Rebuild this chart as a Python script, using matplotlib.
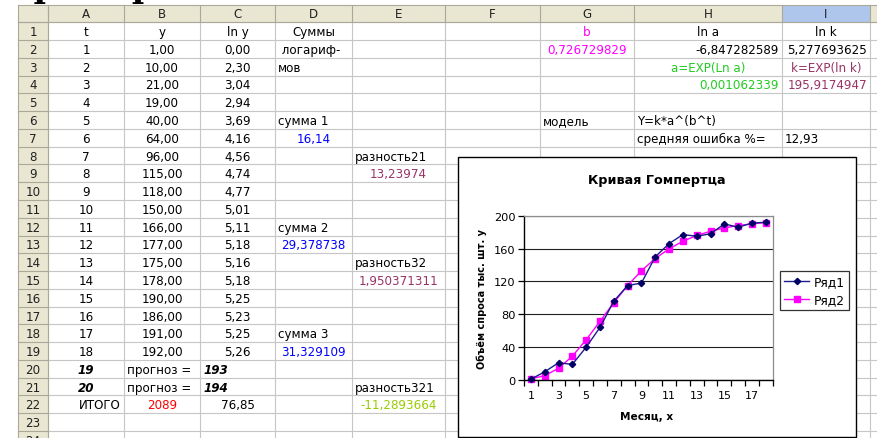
import matplotlib
matplotlib.use("Agg")
import matplotlib.pyplot as plt
from matplotlib.patches import Rectangle

W, H = 877, 439

# ---------------- data ----------------
t = list(range(1, 19))
y = [1, 10, 21, 19, 40, 64, 96, 115, 118, 150, 166, 177, 175, 178, 190, 186, 191, 192]
ln_y = [0.00, 2.30, 3.04, 2.94, 3.69, 4.16, 4.56, 4.74, 4.77, 5.01, 5.11, 5.18,
        5.16, 5.18, 5.25, 5.23, 5.25, 5.26]
model = [1.4, 5.3, 14.2, 29.0, 48.9, 71.5, 94.1, 115.0, 133.0, 147.9, 159.7, 168.9,
         175.9, 181.1, 185.1, 188.0, 190.1, 191.7]
series_names = ["Ряд1", "Ряд2"]
col_letters = ["A", "B", "C", "D", "E", "F", "G", "H", "I"]
y_ticks = [0, 40, 80, 120, 160, 200]
x_tick_labels = [1, 3, 5, 7, 9, 11, 13, 15, 17]
chart_title = "Кривая Гомпертца"
x_label = "Месяц, х"
y_label = "Объём спроса тыс. шт. у"

# ---------------- layout ----------------
col_x = [48, 124, 200, 275, 352, 445, 540, 634, 782, 870]
ROW0, RH = 23.3, 17.77
def row_top(k):
    return ROW0 + (k - 1) * RH
def row_mid(k):
    return row_top(k) + RH / 2 + 0.5

def fmt(v):
    return f"{v:.2f}".replace(".", ",")

FONT = "DejaVu Sans"
FS = 8.6

fig = plt.figure(figsize=(W / 100, H / 100), dpi=100)
ax0 = fig.add_axes([0, 0, 1, 1])
ax0.set_xlim(0, W)
ax0.set_ylim(H, 0)
ax0.axis("off")

# partially visible heading above the sheet
ax0.text(2, -3.5, "Пример", fontfamily="DejaVu Serif", fontweight="bold",
         fontsize=24, va="baseline", ha="left", color="black")

hdr_bg = "#E9E6D2"
grid_c = "#C6C6C6"
sep_c = "#ACA899"
# header bands
ax0.add_patch(Rectangle((18, 5.5), W - 18, ROW0 - 5.5, facecolor=hdr_bg, edgecolor="none", zorder=1))
ax0.add_patch(Rectangle((18, ROW0), 48 - 18, H - ROW0, facecolor=hdr_bg, edgecolor="none", zorder=1))
ax0.add_patch(Rectangle((col_x[8], 5.5), col_x[9] - col_x[8], ROW0 - 5.5,
                        facecolor="#AEC6EC", edgecolor="none", zorder=1.1))
ax0.plot([18, W], [5.5, 5.5], color=sep_c, lw=0.8, zorder=2)
ax0.plot([18, 18], [5.5, H], color=sep_c, lw=0.8, zorder=2)

# grid lines
for x in col_x:
    ax0.plot([x, x], [ROW0, H], color=grid_c, lw=0.8, zorder=2)
    ax0.plot([x, x], [5.5, ROW0], color=sep_c, lw=0.8, zorder=2)
for k in range(1, 26):
    yy = row_top(k)
    ax0.plot([48, W], [yy, yy], color=grid_c, lw=0.8, zorder=2)
    ax0.plot([18, 48], [yy, yy], color=sep_c, lw=0.8, zorder=2)
ax0.plot([18, W], [ROW0, ROW0], color=sep_c, lw=0.8, zorder=2)
ax0.plot([48, 48], [5.5, H], color=sep_c, lw=0.8, zorder=2)

# column letters and row numbers
for i, c in enumerate(col_letters):
    ax0.text((col_x[i] + col_x[i + 1]) / 2, (5.5 + ROW0) / 2 + 0.5, c, ha="center", va="center",
             fontsize=FS, color="#222222", fontfamily=FONT, zorder=3)
for k in range(1, 25):
    ax0.text(33, row_mid(k), str(k), ha="center", va="center", fontsize=FS,
             color="#222222", fontfamily=FONT, zorder=3)

def cell(row, col, text, align="center", color="black", weight="normal", style="normal"):
    ci = col_letters.index(col)
    x0, x1 = col_x[ci], col_x[ci + 1]
    if align == "center":
        x = (x0 + x1) / 2
    elif align == "left":
        x = x0 + 3
    else:
        x = x1 - 3
    ax0.text(x, row_mid(row), text, ha=align, va="center", fontsize=FS, color=color,
             fontweight=weight, fontstyle=style, fontfamily=FONT, zorder=3)

# headers of table
cell(1, "A", "t")
cell(1, "B", "y")
cell(1, "C", "ln y")
cell(1, "D", "Суммы")
cell(2, "D", " логариф-", "left")
cell(3, "D", "мов", "left")
for i in range(len(t)):
    r = i + 2
    cell(r, "A", str(t[i]))
    cell(r, "B", fmt(y[i]))
    cell(r, "C", fmt(ln_y[i]))

MAG, GRN, PUR, BLU = "#FF00FF", "#22CC22", "#993366", "#0000FF"
cell(1, "G", "b", color=MAG)
cell(2, "G", "0,726729829", color=MAG)
cell(1, "H", "ln a")
cell(1, "I", "ln k")
cell(2, "H", "-6,847282589", "right")
cell(2, "I", "5,277693625", "right")
cell(3, "H", "a=EXP(Ln a)", color=GRN)
cell(3, "I", "k=EXP(ln k)", color=PUR)
cell(4, "H", "0,001062339", "right", color=GRN)
cell(4, "I", "195,9174947", "right", color=PUR)
cell(6, "G", "модель", "left")
cell(6, "H", "Y=k*a^(b^t)", "left")
cell(7, "H", "средняя ошибка %=", "left")
cell(7, "I", "12,93", "left")

cell(6, "D", "сумма 1", "left")
cell(7, "D", "16,14", color=BLU)
cell(12, "D", "сумма 2", "left")
cell(13, "D", "29,378738", color=BLU)
cell(18, "D", "сумма 3", "left")
cell(19, "D", "31,329109", color=BLU)

cell(8, "E", "разность21", "left")
cell(9, "E", "13,23974", color=PUR)
cell(14, "E", "разность32", "left")
cell(15, "E", "1,950371311", color=PUR)
cell(21, "E", "разность321", "left")
cell(22, "E", "-11,2893664", color="#99CC00")

cell(20, "A", "19", weight="bold", style="italic")
cell(21, "A", "20", weight="bold", style="italic")
cell(20, "B", "прогноз =", "left")
cell(21, "B", "прогноз =", "left")
cell(20, "C", "193", "left", weight="bold", style="italic")
cell(21, "C", "194", "left", weight="bold", style="italic")
cell(22, "A", "ИТОГО", "right")
cell(22, "B", "2089", color="#FF0000")
cell(22, "C", "76,85")

# ---------------- chart ----------------
ax0.add_patch(Rectangle((458, 158), 856 - 458, 437.6 - 158, facecolor="white",
                        edgecolor="black", lw=1.0, zorder=5))
ax0.text(657, 181, chart_title, ha="center", va="center", fontsize=9.2,
         fontweight="bold", fontfamily=FONT, zorder=6)
ax0.text(647, 417, x_label, ha="center", va="center", fontsize=7.6,
         fontweight="bold", fontfamily=FONT, zorder=6)
ax0.text(482, 299, y_label, ha="center", va="center", rotation=90, fontsize=7.0,
         fontweight="bold", fontfamily=FONT, zorder=6)

L, R, T, B = 524, 772.7, 216.7, 381
ax = fig.add_axes([L / W, (H - B) / H, (R - L) / W, (B - T) / H])
ax.set_facecolor("white")
ax.set_xlim(0.5, 18.5)
ax.set_ylim(0, 200)
for s in ["top", "right"]:
    ax.spines[s].set_color("#8C8C8C")
    ax.spines[s].set_linewidth(0.9)
for s in ["left", "bottom"]:
    ax.spines[s].set_color("black")
    ax.spines[s].set_linewidth(1.0)
ax.set_yticks(y_ticks)
ax.set_yticklabels([str(v) for v in y_ticks], fontsize=8.2, fontfamily=FONT)
ax.yaxis.grid(True, color="#202020", lw=0.8)
ax.set_axisbelow(True)
ax.set_xticks([i + 0.5 for i in range(0, 19)])
ax.set_xticklabels([])
ax.set_xticks(x_tick_labels, minor=True)
ax.set_xticklabels([str(v) for v in x_tick_labels], minor=True, fontsize=8.0, fontfamily=FONT)
ax.tick_params(axis="x", which="major", direction="out", length=4, width=0.9)
ax.tick_params(axis="x", which="minor", length=0, pad=7)
ax.tick_params(axis="y", direction="out", length=4, width=0.9, pad=2)

ax.plot(t, y, color="#1C1C8E", lw=1.0, marker="D", ms=3.2, mfc="#000066", mec="#000066",
        label=series_names[0], zorder=3, clip_on=False)
ax.plot(t, model, color="#FF00FF", lw=1.0, marker="s", ms=3.8, mfc="#FF00FF", mec="#FF00FF",
        label=series_names[1], zorder=2, clip_on=False)

leg = ax.legend(loc="center left", bbox_to_anchor=(780 / W, 1 - 291.5 / H),
                bbox_transform=fig.transFigure, frameon=True, fancybox=False,
                prop={"family": FONT, "size": 8.8}, handlelength=2.0, handletextpad=0.4,
                borderpad=0.35, labelspacing=0.4, borderaxespad=0)
leg.get_frame().set_edgecolor("black")
leg.get_frame().set_linewidth(0.9)

fig.savefig("out.png", dpi=100)
